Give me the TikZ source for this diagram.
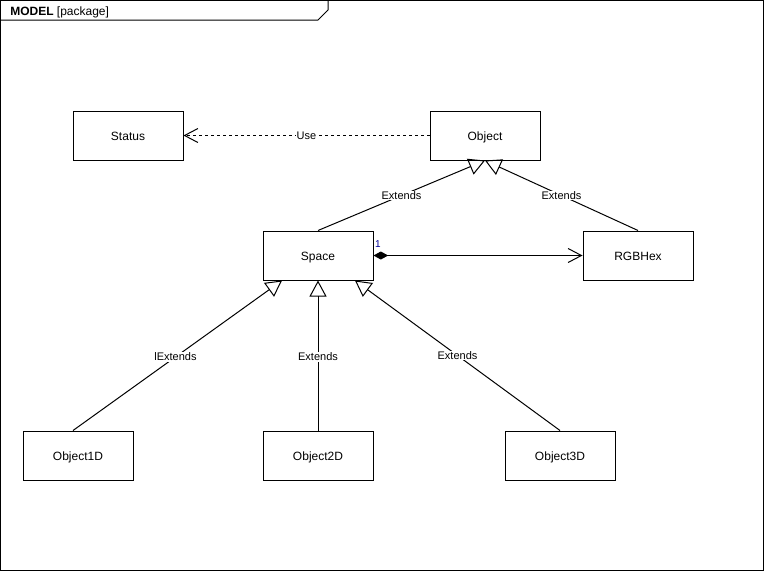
\documentclass[tikz,border=0pt]{standalone}
\usepackage{fontspec}
\setmainfont{Liberation Sans}
\usetikzlibrary{arrows.meta,calc}
\definecolor{onecol}{RGB}{0,0,153}
\tikzset{
  cls/.style={draw, line width=0.75pt, minimum width=82.5pt, minimum height=36.75pt, inner sep=0pt, text height=7.9pt, text depth=0pt, font=\fontsize{9pt}{11pt}\selectfont},
  conn/.style={line width=0.75pt},
  gen/.style={conn, -{Triangle[open, length=12pt, width=12.75pt]}},
  usearrow/.style={conn, dash pattern=on 2.25pt off 2.25pt, -{Straight Barb[length=10pt, width=10.5pt]}},
  assoc/.style={conn, {Diamond[length=11pt, width=6pt]}-{Straight Barb[length=10pt, width=10.5pt]}},
  lbl/.style={fill=white, inner sep=0.5pt, font=\fontsize{8.25pt}{10pt}\selectfont},
  onelbl/.style={text=onecol, inner sep=0pt, font=\fontsize{7.5pt}{9pt}\selectfont}
}
\begin{document}
\begin{tikzpicture}[x=0.75pt, y=-0.75pt]
\useasboundingbox (0,0) rectangle (764,571);
% frame
\draw[line width=0.75pt] (0.5,0.5) rectangle (763.5,570.5);
\draw[line width=0.75pt] (0.5,20) -- (318,20) -- (328,10) -- (328,0.5);
\node[anchor=west, inner sep=0pt, font=\fontsize{9pt}{11pt}\selectfont] (title) at (10,12) {\textbf{MODEL} [package]};
% classes
\node[cls] (status) at (128,135.5) {Status};
\node[cls] (object) at (485,135.5) {Object};
\node[cls] (space) at (318,255.5) {Space};
\node[cls] (rgbhex) at (638,255.5) {RGBHex};
\node[cls] (o1) at (78,455.5) {Object1D};
\node[cls] (o2) at (318,455.5) {Object2D};
\node[cls] (o3) at (560,455.5) {Object3D};
% helper coordinates
\coordinate (s1) at ($(space.south)+(-36,0)$);
\coordinate (s3) at ($(space.south)+(37,0)$);
\coordinate (a1) at ($(o1.north)+(-5,0)$);
% connectors
\draw[usearrow] (object.west) -- node[lbl] {Use} (status.east);
\draw[gen] (space.north) -- node[lbl] {Extends} (object.south);
\draw[gen] (rgbhex.north) -- node[lbl] {Extends} (object.south);
\draw[assoc] (space.east) -- (rgbhex.west);
\node[onelbl] (one) at ($(space.east)+(4.5,-11.5)$) {1};
\draw[gen] (a1) -- node[lbl, pos=0.49] {lExtends} (s1);
\draw[gen] (o2.north) -- node[lbl, pos=0.49] {Extends} (space.south);
\draw[gen] (o3.north) -- node[lbl, pos=0.5] {Extends} (s3);
\end{tikzpicture}
\end{document}
